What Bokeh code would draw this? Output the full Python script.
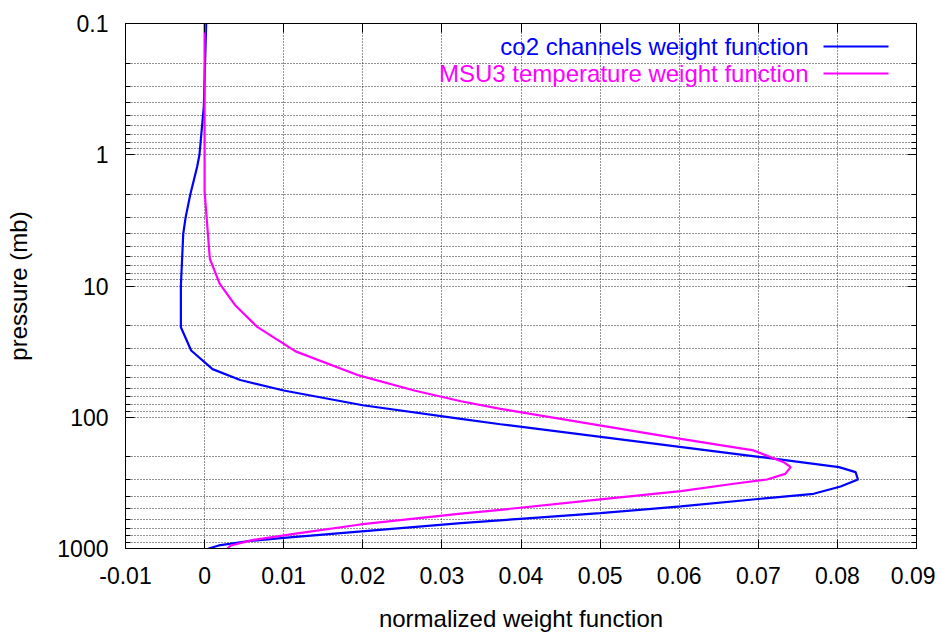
from bokeh.plotting import figure
from bokeh.models import (Range1d, FixedTicker, CustomJSTickFormatter, LinearAxis, LogAxis,
                          Label, Arrow, ColumnDataSource)
from bokeh.embed import file_html
from bokeh.resources import INLINE

# ---- data ----
co2_pressure = [0.1, 0.43, 1.0, 1.24, 2.0, 3.0, 4.0, 10, 20.6, 31, 43, 52, 62.5, 81, 103, 113,
                201, 240, 262, 298, 337, 383, 418, 478, 538, 594, 641, 830, 880, 948, 1000]
co2_weight = [0.0002, -0.0001, -0.00065, -0.00095, -0.0018, -0.0024, -0.0027, -0.003, -0.003,
              -0.0017, 0.001, 0.0045, 0.010, 0.020, 0.0324, 0.0374,
              0.0703, 0.0802, 0.0823, 0.0826, 0.0804, 0.077, 0.0703, 0.0602, 0.050, 0.0399,
              0.0324, 0.010, 0.0054, 0.0018, 0.0005]

msu3_pressure = [0.1, 1.9, 6.2, 9.6, 14.1, 20.6, 31.5, 48, 62.5, 75.5, 86.3, 146, 179, 220, 240,
                 270, 298, 321, 366, 423, 507, 543, 656, 773, 859, 948, 1000]
msu3_weight = [0.0, 0.0, 0.00066, 0.0019, 0.0039, 0.0067, 0.0115, 0.0195, 0.0265, 0.0324, 0.0374,
               0.0602, 0.0694, 0.0732, 0.0741, 0.0734, 0.0711, 0.0669, 0.0602, 0.050, 0.0374,
               0.0324, 0.0197, 0.0113, 0.0062, 0.0033, 0.0029]

x_ticks = [-0.01, 0, 0.01, 0.02, 0.03, 0.04, 0.05, 0.06, 0.07, 0.08, 0.09]
y_major = [0.1, 1, 10, 100, 1000]
y_minor = [m * d for d in [0.1, 1, 10, 100] for m in range(2, 10)]

series_names = ["co2 channels weight function", "MSU3 temperature weight function"]
series_colors = ["#0000ff", "#ff00ff"]

FONT = "Liberation Sans"

p = figure(width=935, height=634, output_backend="svg", toolbar_location=None,
           x_range=Range1d(-0.01, 0.09), y_range=Range1d(1000, 0.1), y_axis_type="log",
           min_border_left=125, min_border_right=19, min_border_top=23, min_border_bottom=86)
p.background_fill_color = "white"
p.border_fill_color = "white"
p.outline_line_color = "black"
p.outline_line_width = 1
p.outline_line_alpha = 1

xt = FixedTicker(ticks=x_ticks)
yt = FixedTicker(ticks=y_major, minor_ticks=y_minor)

xfmt = CustomJSTickFormatter(code="return parseFloat(tick.toFixed(2)).toString();")
yfmt = CustomJSTickFormatter(code="return parseFloat(tick.toPrecision(6)).toString();")
blank = CustomJSTickFormatter(code="return '';")

xa = p.xaxis[0]
xa.ticker = xt
xa.formatter = xfmt
ya = p.yaxis[0]
ya.ticker = yt
ya.formatter = yfmt

for ax in (xa, ya):
    ax.major_label_text_font = FONT
    ax.major_label_text_font_size = "23px"
    ax.major_label_text_color = "black"
    ax.axis_label_text_font = FONT
    ax.axis_label_text_font_size = "24px"
    ax.axis_label_text_font_style = "normal"
    ax.axis_label_text_color = "black"
    ax.axis_line_color = "black"
    ax.major_tick_in = 9
    ax.major_tick_out = 0
    ax.minor_tick_in = 5
    ax.minor_tick_out = 0
    ax.major_tick_line_color = "black"
    ax.minor_tick_line_color = "black"

xa.major_label_text_line_height = 1.0
xa.axis_label_text_line_height = 1.0
xa.major_label_standoff = 18
ya.major_label_standoff = 17
xa.minor_tick_line_color = None
xa.axis_label = "normalized weight function"
xa.axis_label_standoff = 18
ya.axis_label = "pressure (mb)"
ya.axis_label_standoff = 22

top = LinearAxis(ticker=xt, formatter=blank, major_tick_in=9, major_tick_out=0,
                 minor_tick_line_color=None, axis_line_color="black", major_label_text_font_size="0px")
right = LogAxis(ticker=yt, formatter=blank, major_tick_in=9, major_tick_out=0,
                minor_tick_in=5, minor_tick_out=0, axis_line_color="black",
                major_label_text_font_size="0px")
p.add_layout(top, "above")
p.add_layout(right, "right")

p.xgrid.ticker = xt
p.ygrid.ticker = yt
for g in (p.xgrid[0], p.ygrid[0]):
    g.grid_line_color = "black"
    g.grid_line_alpha = 0.85
    g.grid_line_dash = "1 2"
    g.grid_line_width = 1
p.ygrid[0].minor_grid_line_color = "black"
p.ygrid[0].minor_grid_line_alpha = 0.85
p.ygrid[0].minor_grid_line_dash = "1 2"

src_co2 = ColumnDataSource(dict(x=co2_weight, y=co2_pressure))
src_msu = ColumnDataSource(dict(x=msu3_weight, y=msu3_pressure))
p.line("x", "y", source=src_co2, line_color=series_colors[0], line_width=2.2)
p.line("x", "y", source=src_msu, line_color=series_colors[1], line_width=2.2)

# legend: right-aligned text with line sample on its right
for i, (name, col) in enumerate(zip(series_names, series_colors)):
    yy = 502 - 27 * i
    p.add_layout(Label(x=683, y=yy, x_units="screen", y_units="screen", text=name,
                       text_align="right", text_baseline="middle", text_color=col,
                       text_font=FONT, text_font_size="24px"))
    p.add_layout(Arrow(x_start=698, y_start=yy, x_end=763, y_end=yy,
                       start_units="screen", end_units="screen", end=None,
                       line_color=col, line_width=2.2))

open("out.html", "w").write(file_html(p, INLINE))
